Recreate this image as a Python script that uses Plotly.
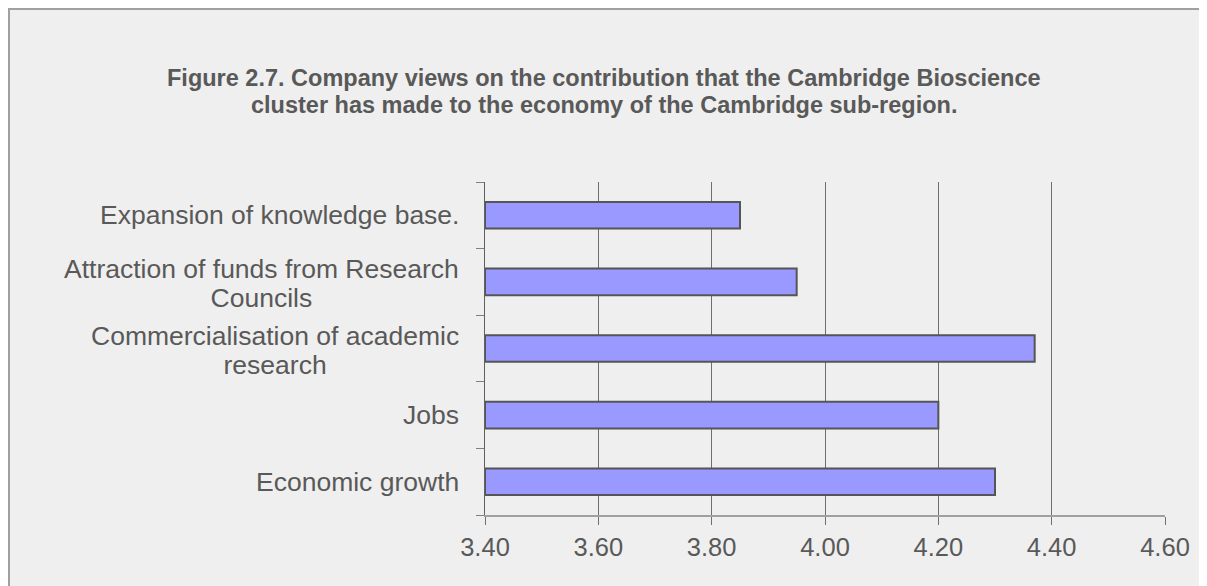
import plotly.graph_objects as go

categories = [
    "Economic growth",
    "Jobs",
    "Commercialisation of academic<br>research",
    "Attraction of funds from Research<br>Councils",
    "Expansion of knowledge base.",
]
values = [4.30, 4.20, 4.37, 3.95, 3.85]
x_ticks = [3.40, 3.60, 3.80, 4.00, 4.20, 4.40, 4.60]
title_lines = [
    "Figure 2.7. Company views on the contribution that the Cambridge Bioscience",
    "cluster has made to the economy of the Cambridge sub-region.",
]

# page has an 8px body margin; window coords -> figure coords
OFF = 8
W, H = 1207, 586
L, T = 485 - OFF, 182 - OFF
pw, ph = 680, 333
R, B = W - L - pw, H - T - ph

def px_x(px):
    return (px - OFF - L) / pw

def px_y(py):
    return (T + ph - (py - OFF)) / ph

TEXT = "#595959"
FONT = "Liberation Sans, Arial, sans-serif"
LABEL_SIZE = 26.5

fig = go.Figure()
fig.add_trace(go.Bar(
    y=list(range(len(categories))),
    x=[v - 3.40 for v in values],
    base=3.40,
    orientation="h",
    marker=dict(color="#9999ff", line=dict(color="#555555", width=2)),
    hoverinfo="skip",
))

annotations = []
for i, c in enumerate(categories):
    lines = c.split("<br>")
    txt = "<br>".join(f"<span style='font-size:{LABEL_SIZE}px'>{ln}</span>" for ln in lines)
    annotations.append(dict(
        x=px_x(461), y=i, xref="paper", yref="y", text=txt,
        showarrow=False, xanchor="right", yanchor="middle", align="center",
        yshift=-2 if len(lines) > 1 else 0,
        font=dict(family=FONT, size=22.5, color=TEXT),
    ))
for j, line in enumerate(title_lines):
    annotations.append(dict(
        x=px_x(604), y=px_y(78 + 27 * j), xref="paper", yref="paper",
        text=line, showarrow=False, xanchor="center", yanchor="middle",
        font=dict(family=FONT, size=23.5, color=TEXT, weight="bold"),
    ))

shapes = [
    dict(type="line", xref="paper", yref="paper", x0=px_x(8), x1=px_x(W + 40),
         y0=px_y(9), y1=px_y(9), line=dict(color="#a0a0a0", width=2)),
    dict(type="line", xref="paper", yref="paper", x0=px_x(9), x1=px_x(9),
         y0=px_y(8), y1=px_y(H + 40), line=dict(color="#a0a0a0", width=2)),
]

fig.update_layout(
    width=W, height=H,
    margin=dict(l=L, r=R, t=T, b=B, pad=0),
    paper_bgcolor="#efefef", plot_bgcolor="#efefef",
    showlegend=False,
    bargap=0.6,
    annotations=annotations,
    shapes=shapes,
    font=dict(family=FONT, color=TEXT, size=24),
    xaxis=dict(
        range=[3.40, 4.60], tickvals=x_ticks,
        ticktext=[f"{v:.2f}" for v in x_ticks],
        showgrid=True, gridcolor="#6e6e6e", gridwidth=1,
        showline=True, linecolor="#a0a0a0", linewidth=2,
        ticks="outside", ticklen=8, tickcolor="#707070", tickwidth=1,
        tickfont=dict(family=FONT, size=25.5, color=TEXT),
        zeroline=False, fixedrange=True,
    ),
    yaxis=dict(
        range=[-0.5, len(categories) - 0.5],
        tickvals=[i - 0.5 for i in range(len(categories) + 1)],
        ticktext=[""] * (len(categories) + 1),
        showgrid=False, zeroline=False,
        showline=True, linecolor="#606060", linewidth=1,
        ticks="outside", ticklen=8, tickcolor="#808080", tickwidth=1,
        fixedrange=True,
    ),
)

fig.write_html("out.html")
